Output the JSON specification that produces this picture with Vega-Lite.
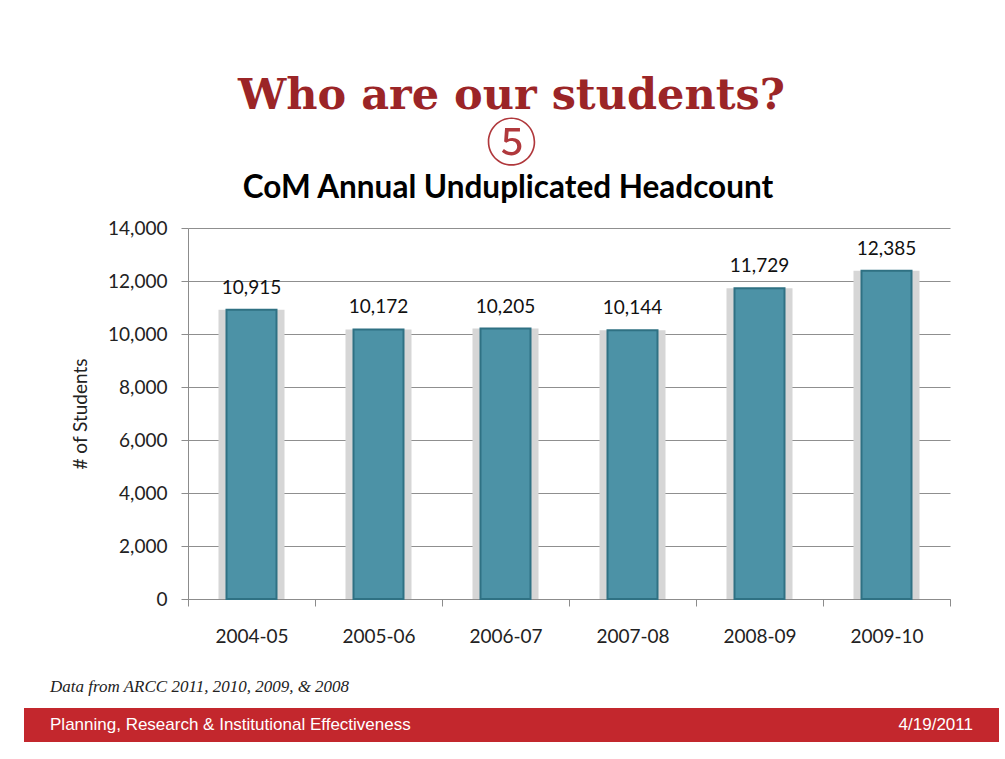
{
  "$schema": "https://vega.github.io/schema/vega-lite/v6.json",
  "background": "white",
  "padding": {"left": 24, "top": 74, "right": 6, "bottom": 10},
  "config": {"view": {"stroke": null}, "font": "Lato"},
  "title": {
    "text": "Who are our students?",
    "subtitle": "⑤",
    "anchor": "middle",
    "frame": "bounds",
    "font": "DejaVu Serif",
    "fontSize": 43,
    "fontWeight": "bold",
    "color": "#9b2527",
    "subtitleFont": "Noto Sans CJK JP",
    "subtitleFontSize": 51,
    "subtitleColor": "#b0383c",
    "subtitlePadding": 3,
    "offset": 2
  },
  "spacing": 24,
  "vconcat": [
    {
      "width": 926,
      "height": 371,
      "title": {
        "text": "CoM Annual Unduplicated Headcount",
        "font": "Lato",
        "fontSize": 31.5,
        "fontWeight": "bold",
        "color": "#000000",
        "anchor": "middle",
        "dx": 21,
        "offset": 15
      },
      "data": {
        "values": [
          {"year": "2004-05", "headcount": 10915},
          {"year": "2005-06", "headcount": 10172},
          {"year": "2006-07", "headcount": 10205},
          {"year": "2007-08", "headcount": 10144},
          {"year": "2008-09", "headcount": 11729},
          {"year": "2009-10", "headcount": 12385}
        ]
      },
      "encoding": {
        "x": {
          "field": "year",
          "type": "nominal",
          "sort": null,
          "scale": {"range": [164, 926], "paddingInner": 0, "paddingOuter": 0},
          "axis": {
            "title": null,
            "labelAngle": 0,
            "labelFontSize": 19,
            "labelColor": "#222222",
            "labelPadding": 21,
            "domainColor": "#8c8c8c",
            "tickColor": "#8c8c8c",
            "tickSize": 7,
            "tickBand": "extent",
            "grid": false
          }
        },
        "y": {
          "field": "headcount",
          "type": "quantitative",
          "scale": {"domain": [0, 14000], "nice": false},
          "axis": {
            "offset": -164,
            "title": "# of Students",
            "titleFontSize": 19,
            "titleFontWeight": "normal",
            "titleColor": "#222222",
            "titleX": -108,
            "titleBaseline": "middle",
            "values": [0, 2000, 4000, 6000, 8000, 10000, 12000, 14000],
            "format": ",.0f",
            "labelFontSize": 19,
            "labelColor": "#222222",
            "labelPadding": 14,
            "tickSize": 7,
            "tickColor": "#8c8c8c",
            "domainColor": "#8c8c8c",
            "grid": true,
            "gridColor": "#8f8f8f",
            "gridOpacity": 1
          }
        }
      },
      "layer": [
        {"mark": {"type": "bar", "width": 66, "color": "#d6d6d6"}},
        {"mark": {"type": "bar", "width": 50, "color": "#4c92a6", "stroke": "#2f7183", "strokeWidth": 2}},
        {
          "mark": {"type": "text", "dy": -12, "baseline": "bottom", "fontSize": 19, "color": "#111111"},
          "encoding": {"text": {"field": "headcount", "type": "quantitative", "format": ",.0f"}}
        }
      ]
    },
    {
      "width": 975,
      "height": 72,
      "encoding": {
        "y": {
          "field": "row",
          "type": "nominal",
          "scale": {"domain": ["note", "bar"], "paddingInner": 0.105, "paddingOuter": 0},
          "axis": null
        }
      },
      "layer": [
        {
          "data": {"values": [{"row": "bar"}]},
          "mark": {"type": "rect", "color": "#c3272d"}
        },
        {
          "data": {"values": [{"row": "note", "side": "left", "label": "Data from ARCC 2011, 2010, 2009, & 2008"}]},
          "mark": {"type": "text", "align": "left", "font": "Liberation Serif", "fontStyle": "italic", "fontSize": 17, "color": "#222222"},
          "encoding": {
            "x": {"field": "side", "type": "nominal", "scale": {"type": "point", "domain": ["left", "right"], "padding": 0.0282}, "axis": null},
            "text": {"field": "label"}
          }
        },
        {
          "data": {"values": [{"row": "bar", "side": "left", "label": "Planning, Research & Institutional Effectiveness"}]},
          "mark": {"type": "text", "align": "left", "font": "Liberation Sans", "fontSize": 17, "color": "#ffffff"},
          "encoding": {
            "x": {"field": "side", "type": "nominal", "scale": {"type": "point", "domain": ["left", "right"], "padding": 0.0282}, "axis": null},
            "text": {"field": "label"}
          }
        },
        {
          "data": {"values": [{"row": "bar", "side": "right", "label": "4/19/2011"}]},
          "mark": {"type": "text", "align": "right", "font": "Liberation Sans", "fontSize": 17, "color": "#ffffff"},
          "encoding": {
            "x": {"field": "side", "type": "nominal", "scale": {"type": "point", "domain": ["left", "right"], "padding": 0.0282}, "axis": null},
            "text": {"field": "label"}
          }
        }
      ]
    }
  ]
}
